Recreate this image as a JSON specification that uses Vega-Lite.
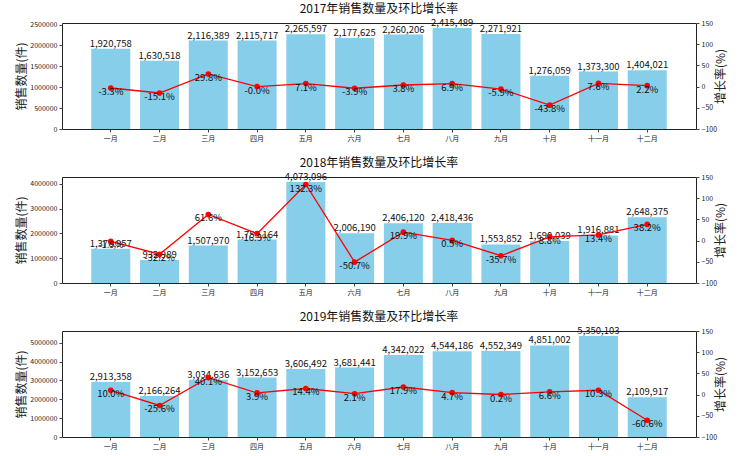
{
  "$schema": "https://vega.github.io/schema/vega-lite/v6.json",
  "background": "white",
  "padding": {"left": 15, "top": 2, "right": 5, "bottom": 5},
  "spacing": 48,
  "bounds": "flush",
  "config": {
    "font": "Noto Sans CJK SC",
    "view": {"stroke": "#222", "strokeWidth": 1},
    "axis": {"grid": false, "labelFont": "Noto Sans CJK SC", "titleFont": "Noto Sans CJK SC", "labelColor": "#222", "tickColor": "#444", "domainColor": "#444", "titleFontWeight": "normal", "titleColor": "#222", "labelOverlap": false},
    "title": {"fontSize": 12, "fontWeight": "normal", "offset": 2, "color": "#111"}
  },
  "datasets": {
    "d": [
      {"year": 2017, "month": "一月", "sales": 1920758, "growth": -3.3, "glabel": "-3.3%"},
      {"year": 2017, "month": "二月", "sales": 1630518, "growth": -15.1, "glabel": "-15.1%"},
      {"year": 2017, "month": "三月", "sales": 2116389, "growth": 29.8, "glabel": "29.8%"},
      {"year": 2017, "month": "四月", "sales": 2115717, "growth": -0.03, "glabel": "-0.0%"},
      {"year": 2017, "month": "五月", "sales": 2265597, "growth": 7.1, "glabel": "7.1%"},
      {"year": 2017, "month": "六月", "sales": 2177625, "growth": -3.9, "glabel": "-3.9%"},
      {"year": 2017, "month": "七月", "sales": 2260206, "growth": 3.8, "glabel": "3.8%"},
      {"year": 2017, "month": "八月", "sales": 2415489, "growth": 6.9, "glabel": "6.9%"},
      {"year": 2017, "month": "九月", "sales": 2271921, "growth": -5.9, "glabel": "-5.9%"},
      {"year": 2017, "month": "十月", "sales": 1276059, "growth": -43.8, "glabel": "-43.8%"},
      {"year": 2017, "month": "十一月", "sales": 1373300, "growth": 7.6, "glabel": "7.6%"},
      {"year": 2017, "month": "十二月", "sales": 1404021, "growth": 2.2, "glabel": "2.2%"},
      {"year": 2018, "month": "一月", "sales": 1376957, "growth": -1.9, "glabel": "-1.9%"},
      {"year": 2018, "month": "二月", "sales": 932989, "growth": -32.2, "glabel": "-32.2%"},
      {"year": 2018, "month": "三月", "sales": 1507970, "growth": 61.6, "glabel": "61.6%"},
      {"year": 2018, "month": "四月", "sales": 1753164, "growth": 16.3, "glabel": "16.3%"},
      {"year": 2018, "month": "五月", "sales": 4073096, "growth": 132.3, "glabel": "132.3%"},
      {"year": 2018, "month": "六月", "sales": 2006190, "growth": -50.7, "glabel": "-50.7%"},
      {"year": 2018, "month": "七月", "sales": 2406120, "growth": 19.9, "glabel": "19.9%"},
      {"year": 2018, "month": "八月", "sales": 2418436, "growth": 0.5, "glabel": "0.5%"},
      {"year": 2018, "month": "九月", "sales": 1553852, "growth": -35.7, "glabel": "-35.7%"},
      {"year": 2018, "month": "十月", "sales": 1690039, "growth": 8.8, "glabel": "8.8%"},
      {"year": 2018, "month": "十一月", "sales": 1916881, "growth": 13.4, "glabel": "13.4%"},
      {"year": 2018, "month": "十二月", "sales": 2648375, "growth": 38.2, "glabel": "38.2%"},
      {"year": 2019, "month": "一月", "sales": 2913358, "growth": 10.0, "glabel": "10.0%"},
      {"year": 2019, "month": "二月", "sales": 2166264, "growth": -25.6, "glabel": "-25.6%"},
      {"year": 2019, "month": "三月", "sales": 3034636, "growth": 40.1, "glabel": "40.1%"},
      {"year": 2019, "month": "四月", "sales": 3152653, "growth": 3.9, "glabel": "3.9%"},
      {"year": 2019, "month": "五月", "sales": 3606492, "growth": 14.4, "glabel": "14.4%"},
      {"year": 2019, "month": "六月", "sales": 3681441, "growth": 2.1, "glabel": "2.1%"},
      {"year": 2019, "month": "七月", "sales": 4342022, "growth": 17.9, "glabel": "17.9%"},
      {"year": 2019, "month": "八月", "sales": 4544186, "growth": 4.7, "glabel": "4.7%"},
      {"year": 2019, "month": "九月", "sales": 4552349, "growth": 0.2, "glabel": "0.2%"},
      {"year": 2019, "month": "十月", "sales": 4851002, "growth": 6.6, "glabel": "6.6%"},
      {"year": 2019, "month": "十一月", "sales": 5350103, "growth": 10.3, "glabel": "10.3%"},
      {"year": 2019, "month": "十二月", "sales": 2109917, "growth": -60.6, "glabel": "-60.6%"}
    ]
  },
  "vconcat": [
    {
      "title": "2017年销售数量及环比增长率",
      "width": 634, "height": 106,
      "data": {"name": "d"},
      "transform": [{"filter": "datum.year == 2017"}],
      "encoding": {"x": {"field": "month", "type": "nominal", "sort": ["一月","二月","三月","四月","五月","六月","七月","八月","九月","十月","十一月","十二月"], "scale": {"paddingInner": 0.2, "paddingOuter": 0.6}, "axis": {"title": null, "labelAngle": 0, "labelFontSize": 7, "tickSize": 3, "labelPadding": 2, "domain": false}}},
      "layer": [
        {
          "encoding": {"y": {"field": "sales", "type": "quantitative", "scale": {"domain": [0, 2536263], "nice": false}, "axis": {"title": "销售数量(件)", "titleFontSize": 12, "labelFontSize": 7, "format": "d", "values": [0, 500000, 1000000, 1500000, 2000000, 2500000], "labelOverlap": false, "tickSize": 3, "labelPadding": 2, "titlePadding": 1, "domain": false}}},
          "layer": [
            {"mark": {"type": "bar", "color": "#87CEEB"}},
            {"mark": {"type": "text", "baseline": "bottom", "fontSize": 9.5, "color": "#111"}, "encoding": {"text": {"field": "sales", "type": "quantitative", "format": ",d"}}}
          ]
        },
        {
          "encoding": {"y": {"field": "growth", "type": "quantitative", "scale": {"domain": [-100, 150], "nice": false}, "axis": {"orient": "right", "title": "增长率(%)", "titleFontSize": 12, "titleAngle": 270, "labelFontSize": 7, "values": [-100, -50, 0, 50, 100, 150], "labelOverlap": false, "tickSize": 3, "labelPadding": 2, "titlePadding": 11, "domain": false}}},
          "layer": [
            {"mark": {"type": "line", "color": "red", "strokeWidth": 1.3}},
            {"mark": {"type": "point", "filled": true, "color": "red", "size": 32, "opacity": 1}},
            {"mark": {"type": "text", "baseline": "middle", "fontSize": 9.5, "color": "#111", "dy": 4}, "encoding": {"text": {"field": "glabel"}}}
          ]
        }
      ],
      "resolve": {"scale": {"y": "independent"}}
    },
    {
      "title": "2018年销售数量及环比增长率",
      "width": 634, "height": 106,
      "data": {"name": "d"},
      "transform": [{"filter": "datum.year == 2018"}],
      "encoding": {"x": {"field": "month", "type": "nominal", "sort": ["一月","二月","三月","四月","五月","六月","七月","八月","九月","十月","十一月","十二月"], "scale": {"paddingInner": 0.2, "paddingOuter": 0.6}, "axis": {"title": null, "labelAngle": 0, "labelFontSize": 7, "tickSize": 3, "labelPadding": 2, "domain": false}}},
      "layer": [
        {
          "encoding": {"y": {"field": "sales", "type": "quantitative", "scale": {"domain": [0, 4276750], "nice": false}, "axis": {"title": "销售数量(件)", "titleFontSize": 12, "labelFontSize": 7, "format": "d", "values": [0, 1000000, 2000000, 3000000, 4000000], "labelOverlap": false, "tickSize": 3, "labelPadding": 2, "titlePadding": 1, "domain": false}}},
          "layer": [
            {"mark": {"type": "bar", "color": "#87CEEB"}},
            {"mark": {"type": "text", "baseline": "bottom", "fontSize": 9.5, "color": "#111"}, "encoding": {"text": {"field": "sales", "type": "quantitative", "format": ",d"}}}
          ]
        },
        {
          "encoding": {"y": {"field": "growth", "type": "quantitative", "scale": {"domain": [-100, 150], "nice": false}, "axis": {"orient": "right", "title": "增长率(%)", "titleFontSize": 12, "titleAngle": 270, "labelFontSize": 7, "values": [-100, -50, 0, 50, 100, 150], "labelOverlap": false, "tickSize": 3, "labelPadding": 2, "titlePadding": 11, "domain": false}}},
          "layer": [
            {"mark": {"type": "line", "color": "red", "strokeWidth": 1.3}},
            {"mark": {"type": "point", "filled": true, "color": "red", "size": 32, "opacity": 1}},
            {"mark": {"type": "text", "baseline": "middle", "fontSize": 9.5, "color": "#111", "dy": 4}, "encoding": {"text": {"field": "glabel"}}}
          ]
        }
      ],
      "resolve": {"scale": {"y": "independent"}}
    },
    {
      "title": "2019年销售数量及环比增长率",
      "width": 634, "height": 106,
      "data": {"name": "d"},
      "transform": [{"filter": "datum.year == 2019"}],
      "encoding": {"x": {"field": "month", "type": "nominal", "sort": ["一月","二月","三月","四月","五月","六月","七月","八月","九月","十月","十一月","十二月"], "scale": {"paddingInner": 0.2, "paddingOuter": 0.6}, "axis": {"title": null, "labelAngle": 0, "labelFontSize": 7, "tickSize": 3, "labelPadding": 2, "domain": false}}},
      "layer": [
        {
          "encoding": {"y": {"field": "sales", "type": "quantitative", "scale": {"domain": [0, 5617608], "nice": false}, "axis": {"title": "销售数量(件)", "titleFontSize": 12, "labelFontSize": 7, "format": "d", "values": [0, 1000000, 2000000, 3000000, 4000000, 5000000], "labelOverlap": false, "tickSize": 3, "labelPadding": 2, "titlePadding": 1, "domain": false}}},
          "layer": [
            {"mark": {"type": "bar", "color": "#87CEEB"}},
            {"mark": {"type": "text", "baseline": "bottom", "fontSize": 9.5, "color": "#111"}, "encoding": {"text": {"field": "sales", "type": "quantitative", "format": ",d"}}}
          ]
        },
        {
          "encoding": {"y": {"field": "growth", "type": "quantitative", "scale": {"domain": [-100, 150], "nice": false}, "axis": {"orient": "right", "title": "增长率(%)", "titleFontSize": 12, "titleAngle": 270, "labelFontSize": 7, "values": [-100, -50, 0, 50, 100, 150], "labelOverlap": false, "tickSize": 3, "labelPadding": 2, "titlePadding": 11, "domain": false}}},
          "layer": [
            {"mark": {"type": "line", "color": "red", "strokeWidth": 1.3}},
            {"mark": {"type": "point", "filled": true, "color": "red", "size": 32, "opacity": 1}},
            {"mark": {"type": "text", "baseline": "middle", "fontSize": 9.5, "color": "#111", "dy": 4}, "encoding": {"text": {"field": "glabel"}}}
          ]
        }
      ],
      "resolve": {"scale": {"y": "independent"}}
    }
  ]
}
